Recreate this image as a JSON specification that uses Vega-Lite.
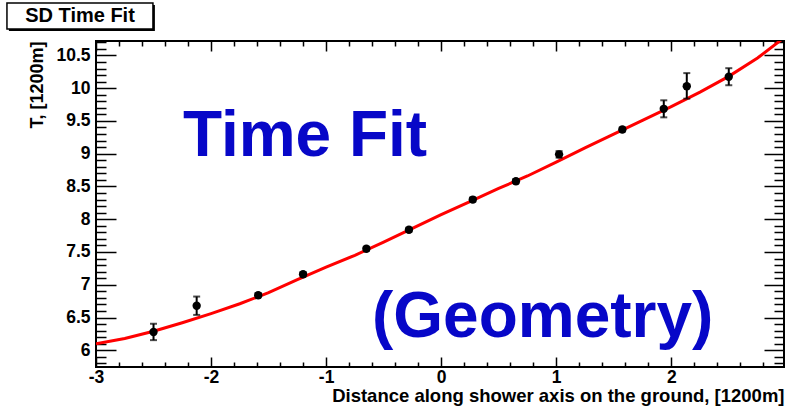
{
  "$schema": "https://vega.github.io/schema/vega-lite/v6.json",
  "width": 688,
  "height": 326,
  "autosize": {"type": "none"},
  "padding": {"left": 96, "top": 41, "right": 15, "bottom": 41},
  "background": "white",
  "config": {
    "font": "Liberation Sans",
    "view": {"stroke": "black", "strokeWidth": 2}
  },
  "datasets": {
    "measured": [
      {"d": -2.5, "t": 6.28, "lo": 6.155, "hi": 6.405},
      {"d": -2.125, "t": 6.68, "lo": 6.54, "hi": 6.82},
      {"d": -1.59, "t": 6.84, "lo": 6.81, "hi": 6.87},
      {"d": -1.2, "t": 7.16, "lo": 7.13, "hi": 7.19},
      {"d": -0.65, "t": 7.55, "lo": 7.52, "hi": 7.58},
      {"d": -0.28, "t": 7.84, "lo": 7.81, "hi": 7.87},
      {"d": 0.275, "t": 8.3, "lo": 8.27, "hi": 8.33},
      {"d": 0.65, "t": 8.58, "lo": 8.55, "hi": 8.61},
      {"d": 1.025, "t": 8.99, "lo": 8.94, "hi": 9.04},
      {"d": 1.575, "t": 9.37, "lo": 9.34, "hi": 9.4},
      {"d": 1.935, "t": 9.685, "lo": 9.555, "hi": 9.815},
      {"d": 2.135, "t": 10.03, "lo": 9.84, "hi": 10.23},
      {"d": 2.5, "t": 10.175, "lo": 10.045, "hi": 10.305}
    ],
    "fit": [
      {"d": -3.0, "t": 6.1},
      {"d": -2.75, "t": 6.18},
      {"d": -2.5, "t": 6.29},
      {"d": -2.25, "t": 6.42},
      {"d": -2.0, "t": 6.56},
      {"d": -1.75, "t": 6.71},
      {"d": -1.5, "t": 6.88},
      {"d": -1.25, "t": 7.08},
      {"d": -1.0, "t": 7.27},
      {"d": -0.75, "t": 7.45},
      {"d": -0.5, "t": 7.65},
      {"d": -0.25, "t": 7.86},
      {"d": 0.0, "t": 8.07},
      {"d": 0.25, "t": 8.27},
      {"d": 0.5, "t": 8.47},
      {"d": 0.75, "t": 8.66},
      {"d": 1.0, "t": 8.87},
      {"d": 1.25, "t": 9.09},
      {"d": 1.5, "t": 9.3},
      {"d": 1.75, "t": 9.51},
      {"d": 2.0, "t": 9.72},
      {"d": 2.25, "t": 9.94},
      {"d": 2.5, "t": 10.18},
      {"d": 2.75, "t": 10.46},
      {"d": 2.98, "t": 10.77}
    ],
    "note": [{}]
  },
  "resolve": {"axis": {"x": "independent", "y": "independent"}},
  "layer": [
    {
      "data": {"name": "fit"},
      "mark": {"type": "line", "color": "#ff0000", "strokeWidth": 3, "clip": true},
      "encoding": {
        "x": {
          "field": "d", "type": "quantitative",
          "scale": {"domain": [-3, 2.98], "nice": false, "zero": false},
          "axis": {
            "orient": "top", "title": null, "labels": false, "domain": false, "grid": false,
            "values": [-3, -2.8, -2.6, -2.4, -2.2, -2, -1.8, -1.6, -1.4, -1.2, -1, -0.8, -0.6, -0.4, -0.2, 0, 0.2, 0.4, 0.6, 0.8, 1, 1.2, 1.4, 1.6, 1.8, 2, 2.2, 2.4, 2.6, 2.8],
            "tickColor": "black", "tickWidth": 1.5,
            "tickSize": {"condition": {"test": "abs(datum.value - round(datum.value)) < 1e-6", "value": -10}, "value": -5}
          }
        },
        "y": {
          "field": "t", "type": "quantitative",
          "scale": {"domain": [5.745, 10.72], "nice": false, "zero": false},
          "axis": {
            "orient": "right", "title": null, "labels": false, "domain": false, "grid": false,
            "values": [5.8, 5.9, 6, 6.1, 6.2, 6.3, 6.4, 6.5, 6.6, 6.7, 6.8, 6.9, 7, 7.1, 7.2, 7.3, 7.4, 7.5, 7.6, 7.7, 7.8, 7.9, 8, 8.1, 8.2, 8.3, 8.4, 8.5, 8.6, 8.7, 8.8, 8.9, 9, 9.1, 9.2, 9.3, 9.4, 9.5, 9.6, 9.7, 9.8, 9.9, 10, 10.1, 10.2, 10.3, 10.4, 10.5, 10.6, 10.7],
            "tickColor": "black", "tickWidth": 1.5,
            "tickSize": {"condition": {"test": "abs(datum.value * 2 - round(datum.value * 2)) < 1e-6", "value": -20}, "value": -10}
          }
        }
      }
    },
    {
      "data": {"name": "measured"},
      "mark": {"type": "errorbar", "ticks": {"color": "black"}, "size": 7, "thickness": 2, "color": "black"},
      "encoding": {
        "x": {"field": "d", "type": "quantitative", "axis": null},
        "y": {"field": "lo", "type": "quantitative", "axis": null},
        "y2": {"field": "hi"}
      }
    },
    {
      "data": {"name": "measured"},
      "mark": {"type": "circle", "size": 70, "color": "black", "opacity": 1},
      "encoding": {
        "x": {
          "field": "d", "type": "quantitative",
          "scale": {"domain": [-3, 2.98], "nice": false, "zero": false},
          "axis": {
            "orient": "bottom", "domain": false, "grid": false,
            "values": [-3, -2.8, -2.6, -2.4, -2.2, -2, -1.8, -1.6, -1.4, -1.2, -1, -0.8, -0.6, -0.4, -0.2, 0, 0.2, 0.4, 0.6, 0.8, 1, 1.2, 1.4, 1.6, 1.8, 2, 2.2, 2.4, 2.6, 2.8],
            "tickColor": "black", "tickWidth": 1.5,
            "tickSize": {"condition": {"test": "abs(datum.value - round(datum.value)) < 1e-6", "value": -10}, "value": -5},
            "labelExpr": "abs(datum.value - round(datum.value)) < 1e-6 ? '' + datum.value : ''",
            "labelFont": "Liberation Sans", "labelFontWeight": "bold", "labelFontSize": 17.5, "labelColor": "black",
            "labelPadding": 11, "labelFlush": false, "labelOverlap": false,
            "title": "Distance along shower axis on the ground, [1200m]",
            "titleAnchor": "end", "titleFont": "Liberation Sans", "titleFontWeight": "bold",
            "titleFontSize": 18.5, "titleColor": "black", "titlePadding": -4
          }
        },
        "y": {
          "field": "t", "type": "quantitative",
          "scale": {"domain": [5.745, 10.72], "nice": false, "zero": false},
          "axis": {
            "orient": "left", "domain": false, "grid": false,
            "values": [5.8, 5.9, 6, 6.1, 6.2, 6.3, 6.4, 6.5, 6.6, 6.7, 6.8, 6.9, 7, 7.1, 7.2, 7.3, 7.4, 7.5, 7.6, 7.7, 7.8, 7.9, 8, 8.1, 8.2, 8.3, 8.4, 8.5, 8.6, 8.7, 8.8, 8.9, 9, 9.1, 9.2, 9.3, 9.4, 9.5, 9.6, 9.7, 9.8, 9.9, 10, 10.1, 10.2, 10.3, 10.4, 10.5, 10.6, 10.7],
            "tickColor": "black", "tickWidth": 1.5,
            "tickSize": {"condition": {"test": "abs(datum.value * 2 - round(datum.value * 2)) < 1e-6", "value": -20}, "value": -10},
            "labelExpr": "abs(datum.value * 2 - round(datum.value * 2)) < 1e-6 ? '' + datum.value : ''",
            "labelFont": "Liberation Sans", "labelFontWeight": "bold", "labelFontSize": 17.5, "labelColor": "black",
            "labelPadding": 26, "labelFlush": false, "labelOverlap": false,
            "title": "T, [1200m]",
            "titleAnchor": "end", "titleFont": "Liberation Sans", "titleFontWeight": "bold",
            "titleFontSize": 18, "titleColor": "black", "titlePadding": 9
          }
        }
      }
    },
    {
      "data": {"name": "note"},
      "mark": {"type": "text", "text": "Time Fit", "font": "Liberation Sans", "fontWeight": "bold", "fontSize": 64, "color": "#0707c8", "align": "left", "baseline": "alphabetic"},
      "encoding": {
        "x": {"datum": -2.244, "type": "quantitative", "axis": null},
        "y": {"datum": 8.96, "type": "quantitative", "axis": null}
      }
    },
    {
      "data": {"name": "note"},
      "mark": {"type": "text", "text": "(Geometry)", "font": "Liberation Sans", "fontWeight": "bold", "fontSize": 64, "color": "#0707c8", "align": "left", "baseline": "alphabetic"},
      "encoding": {
        "x": {"datum": -0.601, "type": "quantitative", "axis": null},
        "y": {"datum": 6.203, "type": "quantitative", "axis": null}
      }
    },
    {
      "data": {"name": "note"},
      "mark": {"type": "rect", "color": "black", "clip": false},
      "encoding": {
        "x": {"datum": -3.757, "type": "quantitative", "axis": null},
        "x2": {"datum": -2.488},
        "y": {"datum": 11.27, "type": "quantitative", "axis": null},
        "y2": {"datum": 10.873}
      }
    },
    {
      "data": {"name": "note"},
      "mark": {"type": "rect", "fill": "white", "stroke": "black", "strokeWidth": 1.5, "clip": false},
      "encoding": {
        "x": {"datum": -3.774, "type": "quantitative", "axis": null},
        "x2": {"datum": -2.505},
        "y": {"datum": 11.3, "type": "quantitative", "axis": null},
        "y2": {"datum": 10.903}
      }
    },
    {
      "data": {"name": "note"},
      "mark": {"type": "text", "text": "SD Time Fit", "font": "Liberation Sans", "fontWeight": "bold", "fontSize": 20, "color": "black", "align": "center", "baseline": "middle", "clip": false},
      "encoding": {
        "x": {"datum": -3.139, "type": "quantitative", "axis": null},
        "y": {"datum": 11.1, "type": "quantitative", "axis": null}
      }
    }
  ]
}
